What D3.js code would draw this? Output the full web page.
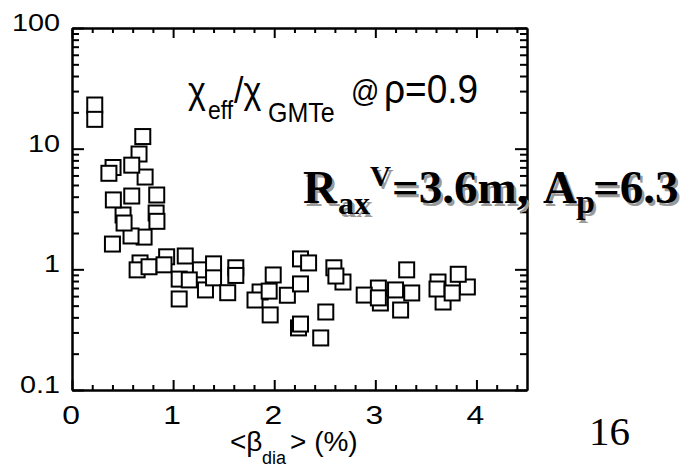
<!DOCTYPE html>
<html>
<head>
<meta charset="utf-8">
<script src="https://cdn.jsdelivr.net/npm/d3@7/dist/d3.min.js"></script>
<style>
  body { margin: 0; background: #fff; }
  text { font-family: "Liberation Sans", Arial, sans-serif; fill: #000; }
</style>
</head>
<body>
<svg id="chart" width="689" height="466"></svg>
<script>
// points drawn first (partly covered by later squares)
const betaBack = [0.505, 0.663, 0.406, 0.723, 0.713, 0.584, 0.832, 0.673, 0.644, 0.936,
                  1.12, 1.27, 1.32, 1.62, 1.86, 1.81, 1.96, 2.26, 2.24, 2.46,
                  2.59, 2.68, 3.03, 3.05, 3.20, 3.62, 3.67, 3.91];
const chiBack  = [2.82, 9.03, 6.98, 5.82, 1.85, 1.89, 2.93, 1.13, 0.99, 1.27,
                  1.29, 0.99, 0.675, 1.03, 0.649, 0.557, 0.419, 1.22, 0.327, 0.27,
                  1.03, 0.785, 0.70, 0.526, 0.675, 0.785, 0.536, 0.714];
// points drawn on top
const betaFront = [0.225, 0.225, 0.70, 0.591, 0.365, 0.838, 0.591, 0.409, 0.515, 0.84,
                   0.40, 0.762, 0.91, 1.06, 1.16, 1.06, 1.40, 1.40, 1.54, 1.62,
                   1.99, 1.95, 2.13, 2.26, 2.34, 2.61, 2.26, 2.51, 2.89, 3.03,
                   3.31, 3.36, 3.25, 3.82, 3.61, 3.76];
const chiFront  = [23.0, 17.5, 12.6, 7.3, 6.25, 4.13, 4.05, 3.76, 2.42, 2.50,
                   1.62, 1.05, 1.09, 0.83, 0.817, 0.568, 1.11, 0.85, 0.64, 0.89,
                   0.898, 0.66, 0.61, 0.757, 1.13, 0.88, 0.352, 0.443, 0.612, 0.58,
                   0.99, 0.637, 0.46, 0.91, 0.687, 0.637];

const xTickValues = [0, 1, 2, 3, 4];
const xTickLabels = ["0", "1", "2", "3", "4"];
const yTickValues = [0.1, 1, 10, 100];
const yTickLabels = ["0.1", "1", "10", "100"];

const svg = d3.select("#chart");
const plotLeft = 72, plotRight = 527, plotTop = 28, plotBottom = 390;

const x = d3.scaleLinear().domain([0, 4.5]).range([plotLeft, plotRight]);
const y = d3.scaleLog().domain([0.1, 100]).range([plotBottom, plotTop]);

const xMinor = d3.range(1, 23).map(i => i * 0.2).filter(v => Math.abs(v - Math.round(v)) > 1e-6);
const yMinor = [];
[0.1, 1, 10].forEach(d => { for (let k = 2; k <= 9; k++) yMinor.push(d * k); });

// axes, ticks pointing inward on all four sides
function addAxis(axis, tx, ty) {
    const g = svg.append("g").attr("transform", `translate(${tx},${ty})`).call(axis);
    g.selectAll("text").remove();
    g.selectAll("path, line").attr("stroke", "#000").attr("stroke-width", 2);
    return g;
}
addAxis(d3.axisBottom(x).tickValues(xTickValues).tickSize(-10).tickSizeOuter(0), 0, plotBottom);
addAxis(d3.axisBottom(x).tickValues(xMinor).tickSize(-5).tickSizeOuter(0), 0, plotBottom);
addAxis(d3.axisTop(x).tickValues(xTickValues).tickSize(-10).tickSizeOuter(0), 0, plotTop);
addAxis(d3.axisTop(x).tickValues(xMinor).tickSize(-5).tickSizeOuter(0), 0, plotTop);
addAxis(d3.axisLeft(y).tickValues(yTickValues).tickSize(-12).tickSizeOuter(0), plotLeft, 0);
addAxis(d3.axisLeft(y).tickValues(yMinor).tickSize(-7).tickSizeOuter(0), plotLeft, 0);
addAxis(d3.axisRight(y).tickValues(yTickValues).tickSize(-12).tickSizeOuter(0), plotRight, 0);
addAxis(d3.axisRight(y).tickValues(yMinor).tickSize(-7).tickSizeOuter(0), plotRight, 0);

// tick labels (slightly wide glyphs in the original)
svg.append("g").selectAll("text")
    .data(yTickValues)
    .enter().append("text")
    .attr("transform", d => `translate(60,${y(d) + 3}) scale(1.2,1)`)
    .attr("text-anchor", "end")
    .attr("font-size", 24)
    .text((d, i) => yTickLabels[i]);

svg.append("g").selectAll("text")
    .data(xTickValues)
    .enter().append("text")
    .attr("transform", d => `translate(${x(d) - 1},424) scale(1.2,1)`)
    .attr("text-anchor", "middle")
    .attr("font-size", 26.5)
    .text((d, i) => xTickLabels[i]);

// x axis title
const xt = svg.append("text").attr("font-size", 28);
xt.append("tspan").attr("x", 230).attr("y", 451).text("<β");
xt.append("tspan").attr("x", 262).attr("y", 464).attr("font-size", 18).text("dia");
xt.append("tspan").attr("x", 290).attr("y", 451).text("> (%)");

// data squares: white filled so later ones hide earlier ones
const side = 15;
function drawSquares(betas, chis) {
    svg.append("g").selectAll("rect")
        .data(betas.map((b, i) => ({b: b, c: chis[i]})))
        .enter().append("rect")
        .attr("x", d => x(d.b) - side / 2)
        .attr("y", d => y(d.c) - side / 2)
        .attr("width", side)
        .attr("height", side)
        .attr("fill", "#fff")
        .attr("stroke", "#000")
        .attr("stroke-width", 2);
}
drawSquares(betaBack, chiBack);
drawSquares(betaFront, chiFront);

// annotation  chi_eff / chi_GMTe @ rho=0.9 (tall glyphs)
const base = 103;
const ann = svg.append("text")
    .attr("transform", `translate(0,${base}) scale(1,1.1) translate(0,${-base})`);
[
    {t: "χ", x: 188, y: base, s: 34},
    {t: "eff", x: 208, y: 118, s: 23},
    {t: "/χ", x: 234, y: base, s: 34},
    {t: "GMTe", x: 268, y: 120, s: 25},
    {t: "@", x: 351, y: base - 1, s: 28},
    {t: "ρ=0.9", x: 384, y: base, s: 37}
].forEach(p => ann.append("tspan").attr("x", p.x).attr("y", p.y).attr("font-size", p.s).text(p.t));

// bold serif label with grey drop shadow
const boldParts = [
    {t: "R", x: 303, y: 203, s: 47},
    {t: "ax", x: 338, y: 214, s: 32},
    {t: "V", x: 370, y: 186, s: 29},
    {t: "=3.6m,", x: 392, y: 203, s: 47},
    {t: "A", x: 543, y: 203, s: 47},
    {t: "p", x: 576, y: 213, s: 34},
    {t: "=6.3", x: 593, y: 203, s: 47}
];
function boldText(dx, dy, color) {
    const t = svg.append("text")
        .style("font-family", "'Liberation Serif', 'Times New Roman', serif")
        .style("font-weight", "bold")
        .style("fill", color);
    boldParts.forEach(p => t.append("tspan")
        .attr("x", p.x + dx).attr("y", p.y + dy)
        .attr("font-size", p.s).text(p.t));
}
boldText(2.5, 2.5, "#9a9a9a");
boldText(0, 0, "#000");

// slide number
svg.append("text")
    .attr("x", 589).attr("y", 445)
    .style("font-family", "'Liberation Serif', 'Times New Roman', serif")
    .attr("font-size", 41)
    .text("16");
</script>
</body>
</html>
